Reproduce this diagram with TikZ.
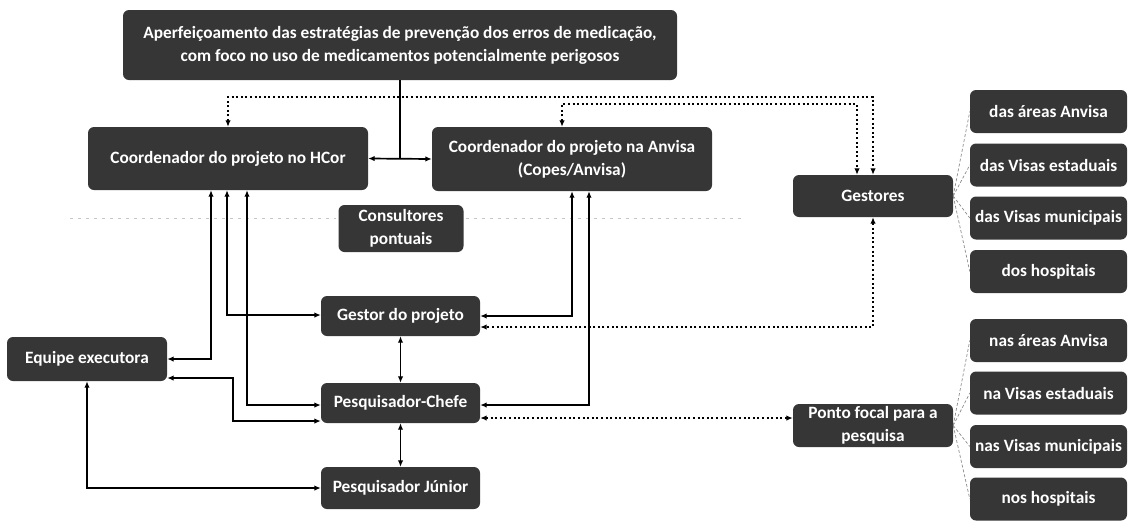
\documentclass[tikz,border=0pt]{standalone}
\usepackage{fontspec}
\setmainfont{Carlito}
\usepackage{tikz}
\usetikzlibrary{arrows.meta,positioning}
\definecolor{boxdark}{HTML}{363636}
\definecolor{fanline}{HTML}{8C8C8C}

\begin{document}
\begin{tikzpicture}[
    x=1pt, y=-1pt,
    >={Latex[length=6.5pt,width=5.5pt]},
    box/.style={fill=boxdark, rounded corners=6pt, text=white, align=center,
                inner sep=0pt, font=\bfseries\fontsize{17.3}{23}\selectfont},
    solidconn/.style={<->, line width=1.7pt},
    dotconn/.style={<->, line width=2pt, dash pattern=on 2pt off 2.6pt},
    fan/.style={fanline, line width=0.7pt, densely dashed},
    faint/.style={gray!45, line width=0.6pt, dash pattern=on 3pt off 5pt}
]
    \useasboundingbox (0,0) rectangle (1128,520);

    % Faint cut line behind the boxes
    \draw[faint] (70,218) -- (336,218);
    \draw[faint] (466,218) -- (745,218);

    % Boxes
    \node[box, minimum width=554, minimum height=70] (goal) at (400,45)
        {Aperfeiçoamento das estratégias de prevenção dos erros de medicação,\\
         com foco no uso de medicamentos potencialmente perigosos};
    \node[box, minimum width=280, minimum height=63] (hcor) at (228,158.5)
        {Coordenador do projeto no HCor};
    \node[box, minimum width=280, minimum height=64] (anvisa) at (572,159)
        {Coordenador do projeto na Anvisa\\(Copes/Anvisa)};
    \node[box, minimum width=125, minimum height=47] (consult) at (401,228.5)
        {Consultores\\pontuais};
    \node[box, minimum width=159, minimum height=40] (gestorproj) at (400.5,316)
        {Gestor do projeto};
    \node[box, minimum width=159, minimum height=40] (chefe) at (400.5,403)
        {Pesquisador-Chefe};
    \node[box, minimum width=159, minimum height=42] (junior) at (400.5,488)
        {Pesquisador Júnior};
    \node[box, minimum width=160, minimum height=44] (equipe) at (87,359)
        {Equipe executora};
    \node[box, minimum width=160, minimum height=42] (gestores) at (873,196)
        {Gestores};
    \node[box, minimum width=160, minimum height=43] (focal) at (873,425.5)
        {Ponto focal para a\\pesquisa};

    % Right column
    \node[box, minimum width=157, minimum height=43] (gA) at (1048.5,111.5) {das áreas Anvisa};
    \node[box, minimum width=157, minimum height=43] (gB) at (1048.5,165) {das Visas estaduais};
    \node[box, minimum width=157, minimum height=43] (gC) at (1048.5,218) {das Visas municipais};
    \node[box, minimum width=157, minimum height=43] (gD) at (1048.5,271.5) {dos hospitais};
    \node[box, minimum width=157, minimum height=43] (fA) at (1048.5,340.5) {nas áreas Anvisa};
    \node[box, minimum width=157, minimum height=43] (fB) at (1048.5,393) {na Visas estaduais};
    \node[box, minimum width=157, minimum height=43] (fC) at (1048.5,446.5) {nas Visas municipais};
    \node[box, minimum width=157, minimum height=43] (fD) at (1048.5,499) {nos hospitais};

    % Helper coordinates
    \coordinate (rowA) at (0,97);
    \coordinate (rowB) at (0,104);
    \coordinate (anvT) at ([xshift=-10pt]anvisa.north);
    \coordinate (gesT) at ([xshift=-16pt]gestores.north);
    \coordinate (anvS) at ([xshift=17pt]anvisa.south);
    \coordinate (gpD) at ([yshift=-11pt]gestorproj.east);
    \coordinate (chD) at ([yshift=-15pt]chefe.east);
    \coordinate (hcL) at ([xshift=-17pt]hcor.south);
    \coordinate (hcR) at ([xshift=19pt]hcor.south);
    \coordinate (eqD) at ([yshift=-19pt]equipe.east);
    \coordinate (chL) at ([yshift=-18pt]chefe.west);

    % Goal to coordinators
    \draw[line width=1.7pt] (goal.south) -- (goal.south |- hcor.east);
    \draw[solidconn] (hcor.east) -- (anvisa.west);

    % Dotted links to Gestores
    \draw[dotconn] (hcor.north) -- (hcor.north |- rowA) -| (gestores.north);
    \draw[dotconn] (anvT) -- (anvT |- rowB) -| (gesT);
    \draw[dotconn] (gestores.south) |- (gpD);
    \draw[dotconn] (chD) -- (chD -| focal.west);

    % Anvisa to project team
    \draw[solidconn] (anvisa.south) |- (gestorproj.east);
    \draw[solidconn] (anvS) |- ([yshift=-2pt]chefe.east);

    % HCor to project team
    \draw[solidconn] (hcL) |- (equipe.east);
    \draw[solidconn] ([xshift=-1pt]hcor.south) |- ([yshift=1pt]gestorproj.west);
    \draw[solidconn] (hcR) |- ([yshift=-2pt]chefe.west);
    \draw[solidconn] (eqD) -- ++(66,0) |- (chL);
    \draw[solidconn] (equipe.south) |- (junior.west);

    % Chain
    \draw[solidconn] (gestorproj.south) -- (chefe.north);
    \draw[solidconn] (chefe.south) -- (junior.north);

    % Fans
    \foreach \b in {gA,gB,gC,gD} {
        \draw[fan] (gestores.east) -- (\b.west);
    }
    \foreach \b in {fA,fB,fC,fD} {
        \draw[fan] (focal.east) -- (\b.west);
    }
\end{tikzpicture}
\end{document}
